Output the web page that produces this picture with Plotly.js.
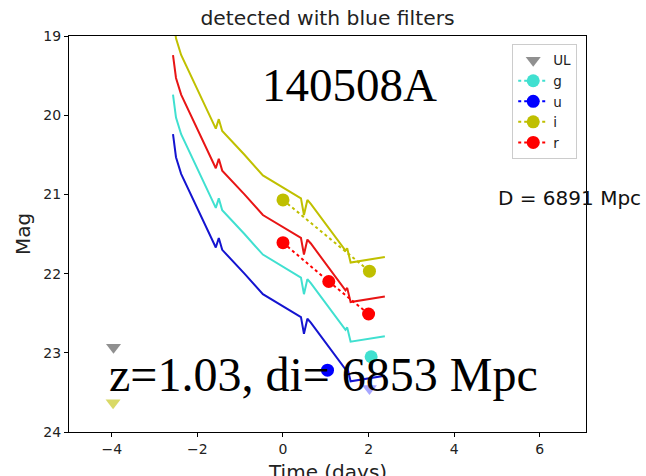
<!DOCTYPE html>
<html>
<head>
<meta charset="utf-8">
<script src="https://cdn.plot.ly/plotly-3.0.1.min.js"></script>
<style>
  html, body { margin: 0; padding: 0; background: #fff; }
  #chart { width: 646px; height: 476px; }
</style>
</head>
<body>
<div id="chart"></div>
<script>
// Model light curves (time in days, magnitude)
const modelTime = [-2.57, -2.50, -2.38, -1.57, -1.50, -1.42, -0.90, -0.47, 0.42, 0.49, 0.57, 0.65, 1.46, 1.50, 1.58, 2.38];
const modelU = [20.24, 20.53, 20.74, 21.67, 21.55, 21.70, 22.00, 22.26, 22.55, 22.76, 22.57, 22.62, 23.21, 23.18, 23.36, 23.29];
const modelG = [19.74, 20.03, 20.24, 21.17, 21.05, 21.20, 21.50, 21.76, 22.05, 22.26, 22.07, 22.12, 22.71, 22.68, 22.86, 22.79];
const modelR = [19.24, 19.53, 19.74, 20.67, 20.55, 20.70, 21.00, 21.26, 21.55, 21.76, 21.57, 21.62, 22.21, 22.18, 22.36, 22.29];
const modelI = [18.74, 19.03, 19.24, 20.17, 20.05, 20.20, 20.50, 20.76, 21.05, 21.26, 21.07, 21.12, 21.71, 21.68, 21.86, 21.79];

// Observations
const obsGTime = [2.06];        const obsGMag = [23.05];
const obsUTime = [1.04];        const obsUMag = [23.22];
const obsITime = [0.0, 2.02];   const obsIMag = [21.07, 21.97];
const obsRTime = [0.0, 1.07, 2.0]; const obsRMag = [21.61, 22.10, 22.51];

// Upper limits
const ulTime = [-3.96];  const ulMag = [22.93];
const ulITime = [-3.97]; const ulIMag = [23.63];
const ulUTime = [2.02];  const ulUMag = [23.45];

const xTicks = [-4, -2, 0, 2, 4, 6];
const yTicks = [19, 20, 21, 22, 23, 24];

const cU = '#0000ff', cG = '#40e0d0', cI = '#bfbf00', cR = '#ff0000';

function model(y, color) {
  return { x: modelTime, y: y, type: 'scatter', mode: 'lines', showlegend: false,
           line: { color: color, width: 2 }, hoverinfo: 'skip' };
}
function obs(x, y, color, name) {
  return { x: x, y: y, type: 'scatter', mode: 'lines+markers', name: name,
           line: { color: color, width: 2, dash: 'dot' },
           marker: { color: color, size: 13, symbol: 'circle' } };
}

const traces = [
  model(modelI, '#c0c000'),
  model(modelR, '#e81515'),
  model(modelG, cG),
  model(modelU, '#1414d0'),
  { x: ulTime, y: ulMag, type: 'scatter', mode: 'markers', name: 'UL',
    marker: { color: 'rgba(70,70,70,0.6)', size: 13, symbol: 'triangle-down' } },
  obs(obsGTime, obsGMag, cG, 'g'),
  obs(obsUTime, obsUMag, cU, 'u'),
  obs(obsITime, obsIMag, cI, 'i'),
  obs(obsRTime, obsRMag, cR, 'r'),
  { x: ulITime, y: ulIMag, type: 'scatter', mode: 'markers', showlegend: false,
    marker: { color: 'rgba(191,191,0,0.6)', size: 13, symbol: 'triangle-down' } },
  { x: ulUTime, y: ulUMag, type: 'scatter', mode: 'markers', showlegend: false,
    marker: { color: 'rgba(0,0,255,0.35)', size: 13, symbol: 'triangle-down' } }
];

const axisCommon = {
  showgrid: false, zeroline: false, showline: true, mirror: true,
  linecolor: '#000', linewidth: 1, ticks: 'outside', ticklen: 4, tickwidth: 1,
  tickcolor: '#000', tickfont: { family: 'DejaVu Sans', size: 14, color: '#222' }
};

const layout = {
  width: 646, height: 476,
  margin: { l: 69, r: 60, t: 36, b: 44 },
  paper_bgcolor: '#fff', plot_bgcolor: '#fff',
  title: { text: 'detected with blue filters', x: 0.5, xref: 'paper', xanchor: 'center',
           y: 0.962, yanchor: 'middle', font: { family: 'DejaVu Sans', size: 20.3, color: '#222' } },
  xaxis: Object.assign({}, axisCommon, {
    range: [-5, 7.08], tickvals: xTicks
  }),
  yaxis: Object.assign({}, axisCommon, {
    range: [24, 19], tickvals: yTicks,
    title: { text: 'Mag', standoff: 7, font: { family: 'DejaVu Sans', size: 20, color: '#222' } }
  }),
  legend: {
    x: 0.983, xanchor: 'right', y: 0.98, yanchor: 'top',
    bgcolor: '#fff', bordercolor: '#ccc', borderwidth: 1,
    font: { family: 'DejaVu Sans', size: 13.5, color: '#222' },
    itemwidth: 30, traceorder: 'normal'
  },
  annotations: [
    { text: 'Time (days)', xref: 'paper', yref: 'paper', x: 0.5, y: -0.1,
      xanchor: 'center', yanchor: 'middle', showarrow: false,
      font: { family: 'DejaVu Sans', size: 20, color: '#222' } },
    { text: '140508A', xref: 'paper', yref: 'paper', x: 0.5426, y: 0.876,
      xanchor: 'center', yanchor: 'middle', showarrow: false,
      font: { family: 'Liberation Serif', size: 47, color: '#000' } },
    { text: 'z=1.03, di= 6853 Mpc', xref: 'paper', yref: 'paper', x: 0.0735, y: 0.1445,
      xanchor: 'left', yanchor: 'middle', showarrow: false,
      font: { family: 'Liberation Serif', size: 48, color: '#000' } },
    { text: 'D = 6891 Mpc', xref: 'paper', yref: 'paper', x: 0.826, y: 0.590,
      xanchor: 'left', yanchor: 'middle', showarrow: false,
      font: { family: 'DejaVu Sans', size: 20, color: '#111' } }
  ]
};

Plotly.newPlot('chart', traces, layout, { displayModeBar: false, staticPlot: true });
</script>
</body>
</html>
